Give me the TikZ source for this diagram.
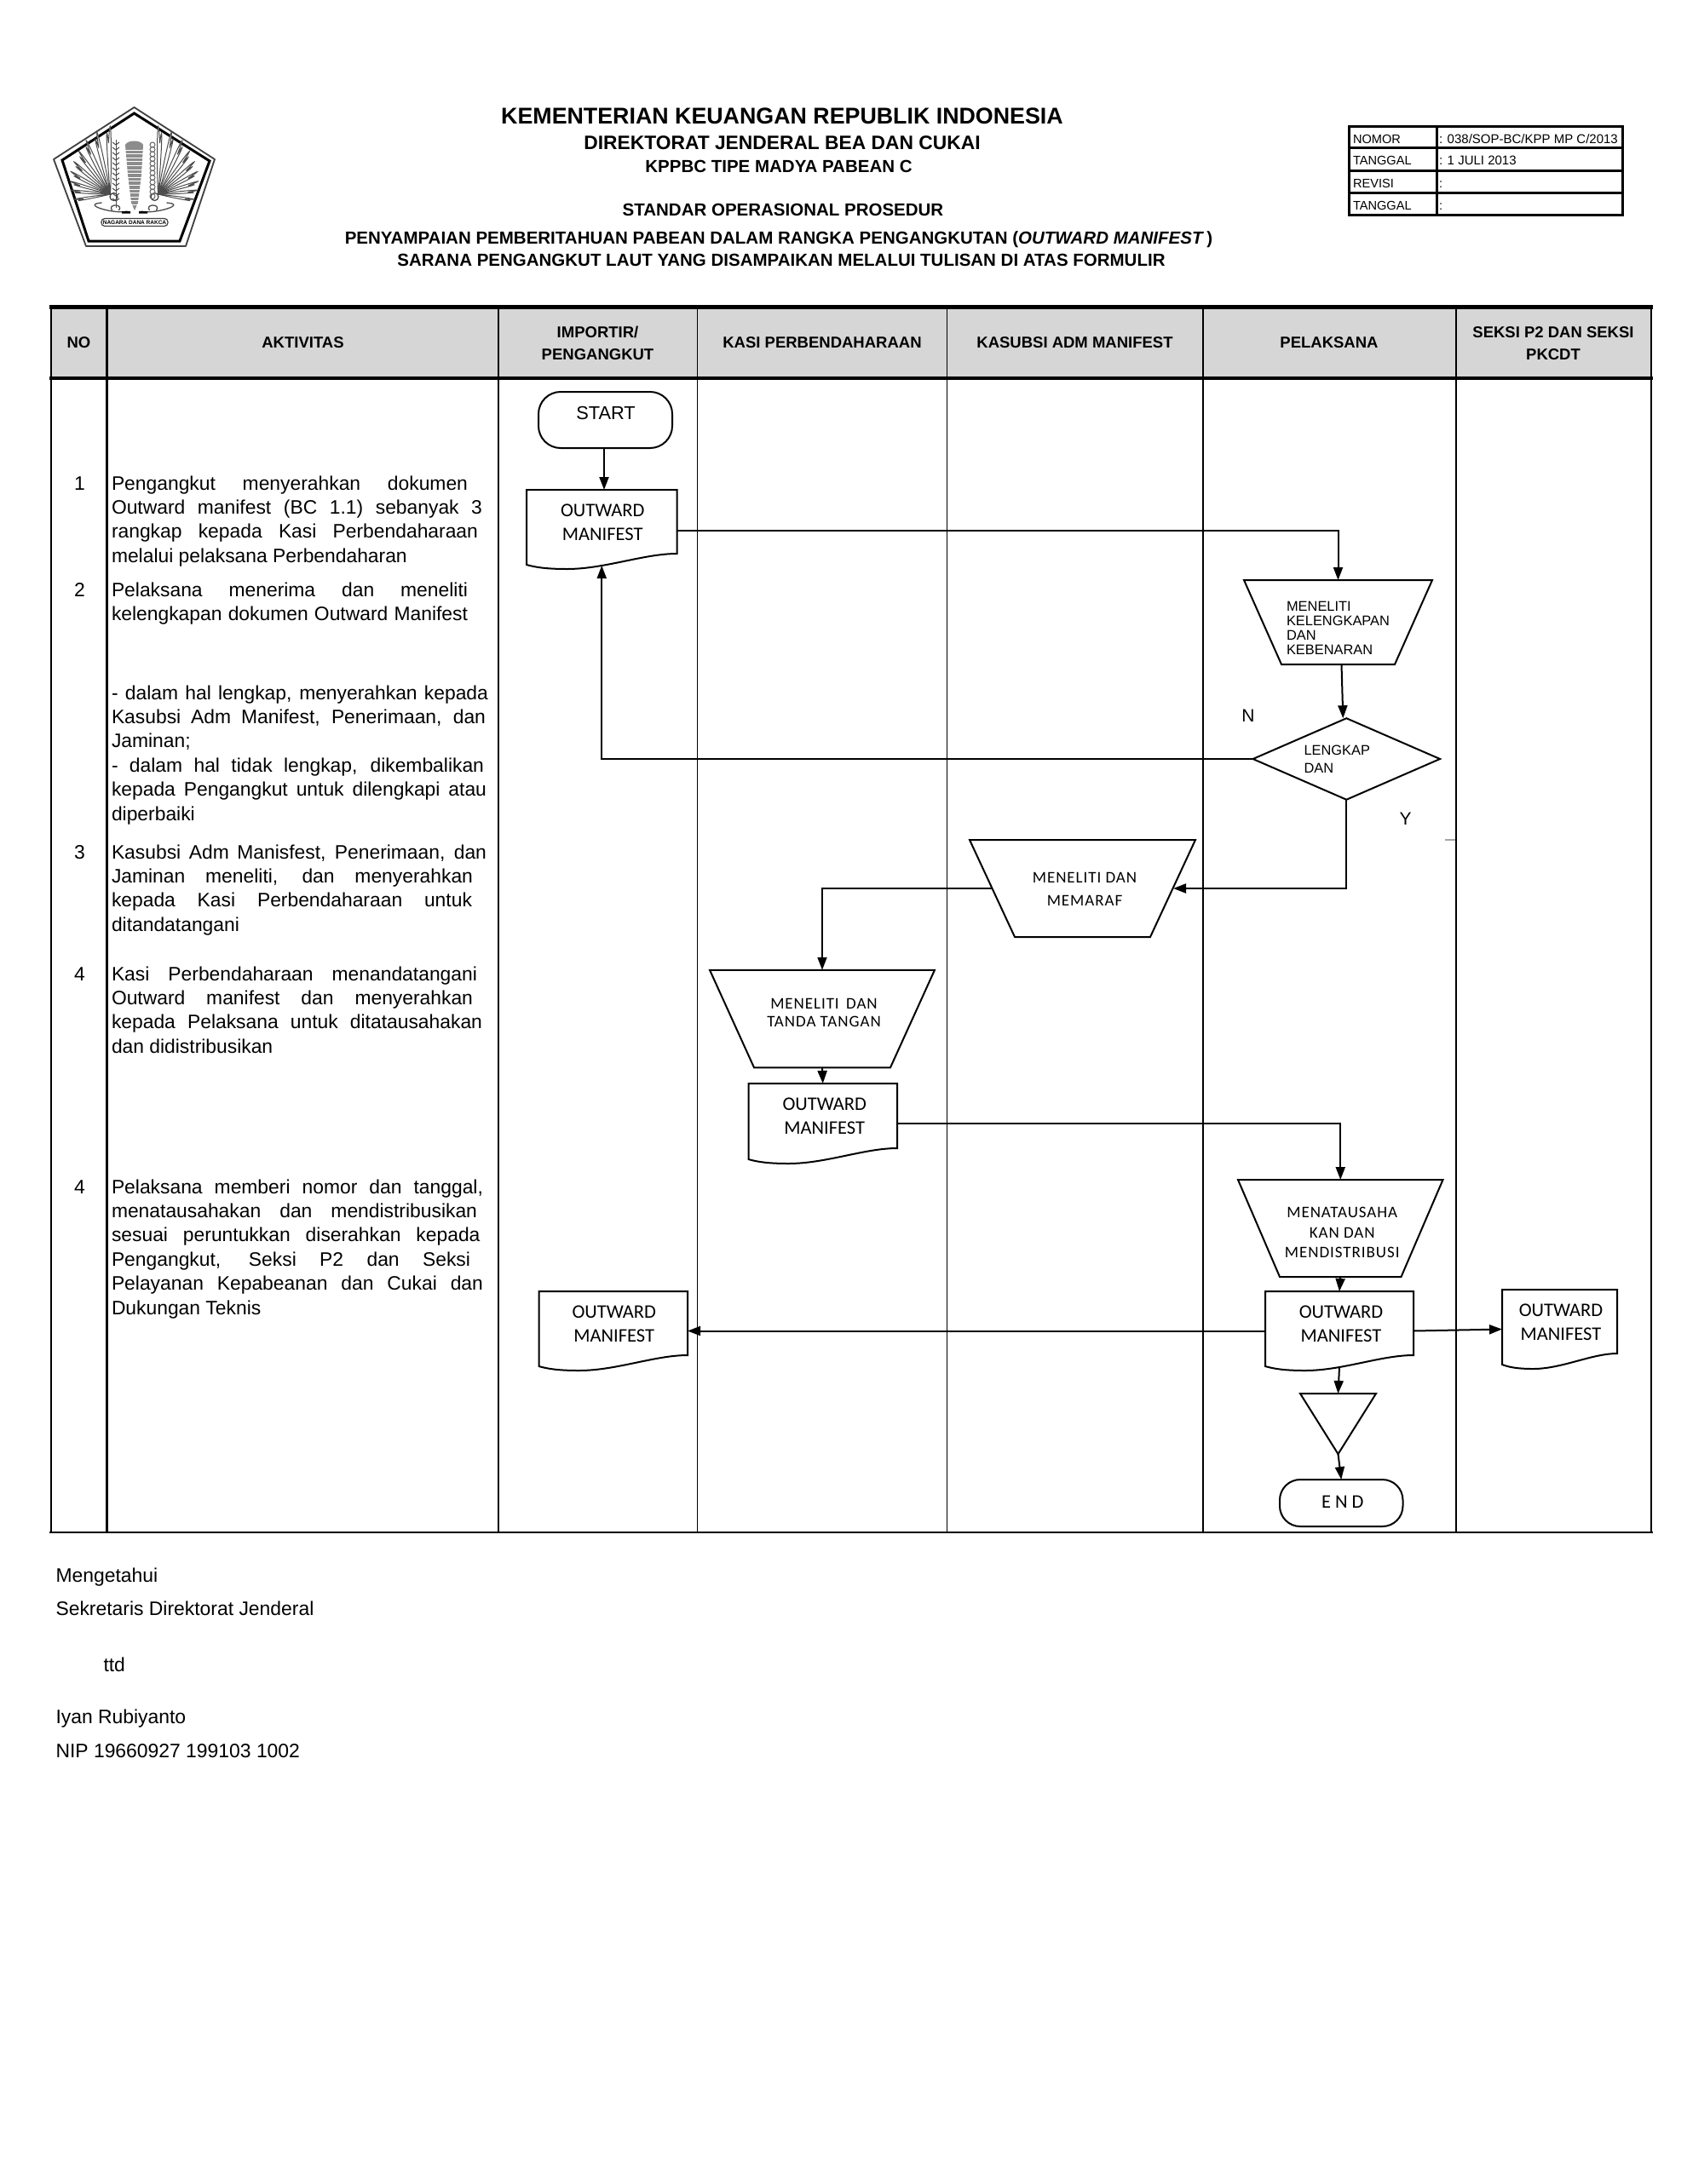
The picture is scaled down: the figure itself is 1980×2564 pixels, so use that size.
\documentclass[tikz,border=0pt]{standalone}
\usepackage{fontspec}
\usepackage{array}
\usetikzlibrary{arrows.meta,calc}
\setmainfont{Liberation Sans}
\newfontfamily\calf{Carlito}
\newfontfamily\calsp[LetterSpace=5]{Carlito}
\newlength\pxu \setlength\pxu{0.5pt}
\newcommand\fsz[2]{\fontsize{\the\dimexpr#1\pxu\relax}{\the\dimexpr#2\pxu\relax}\selectfont}
\newcommand\tshift[4]{\raisebox{\dimexpr#2\pxu-6.5\pxu\relax}[0pt][0pt]{\makebox[0pt][c]{\hspace*{#1pt}\begin{tabular}{@{}#3@{}}#4\end{tabular}}}}
\newcommand\jline[2]{\hbox{\makebox[#1\pxu][s]{#2}}}
\newcommand\nline[1]{\hbox{#1}}
\tikzset{
  pic px/.style={x=0.5pt,y=-0.5pt},
  flowbox/.style={rectangle,inner sep=0pt,outer sep=0pt,minimum width=#1},
  boxh/.style={minimum height=#1},
  shapeline/.style={line width=2*\pxu,black,line join=miter},
  conn/.style={line width=2*\pxu,black,-{Triangle[length=7.5pt,width=5.5pt]}},
  rule/.style={line width=#1*\pxu,black},
  para/.style={inner sep=0pt,outer sep=0pt,anchor=base west,font=\fsz{22.85}{28.4}},
  num/.style={inner sep=0pt,outer sep=0pt,anchor=base,font=\fsz{22.9}{28.4}},
  foot/.style={inner sep=0pt,outer sep=0pt,anchor=base west,font=\fsz{22.9}{28}},
  metat/.style={inner sep=0pt,outer sep=0pt,anchor=base west,font=\fsz{14.6}{16}},
  title/.style={inner sep=0pt,outer sep=0pt,anchor=base,font=\bfseries\fsz{#1}{#1}},
  hcell/.style={rectangle,inner sep=0pt,outer sep=0pt,fill=hgray,font=\bfseries\fsz{18.5}{26},minimum height=84*\pxu},
  cal/.style={font=\calf\fsz{22.5}{28}},
  calsm/.style={font=\calsp\fsz{19}{#1}},
  ari/.style={font=\fsz{16.4}{#1}},
}
\definecolor{hgray}{HTML}{D6D6D6}
\newcommand\trapz[2]{\draw[shapeline] (#1.north west) -- (#1.north east) -- ([xshift=-#2*\pxu]#1.south east) -- ([xshift=#2*\pxu]#1.south west) -- cycle;}
\newcommand\docu[1]{\draw[shapeline] (#1.north west) -- (#1.north east) -- ([yshift=18*\pxu]#1.south east)
  .. controls ([yshift=18*\pxu]$(#1.south east)!.22!(#1.south west)$) and ($(#1.south west)!.52!(#1.south east)$) .. ($(#1.south west)!.27!(#1.south east)$)
  .. controls ($(#1.south west)!.13!(#1.south east)$) and ([yshift=2*\pxu]$(#1.south west)!.06!(#1.south east)$) .. ([yshift=5*\pxu]#1.south west) -- cycle;}
\begin{document}
\begin{tikzpicture}[pic px]
\useasboundingbox (0,0) rectangle (1980,2564);
\fill[white] (0,0) rectangle (1980,2564);

% --- logo
\draw[line width=1.8*\pxu,black!75,line join=round] (157.5,126) -- (252,187) -- (218,289) -- (101,289) -- (63,187) -- cycle;
\draw[line width=3*\pxu,black,line join=miter] (157.5,133) -- (246,189) -- (211,283) -- (104,283) -- (73,188) -- cycle;
% feathers (left & right wings)
\foreach \sgn in {-1,1}{
  \foreach \a/\l in {100/32,86/35,74/37,62/40,50/43,38/47,26/52,14/56,2/60}{
    \draw[line width=1*\pxu,black!70,fill=white] ($(157.5,228)+(\sgn*28,0)$) .. controls +({\sgn*sin(\a-5)*\l*0.6},{-cos(\a-5)*\l*0.6}) and +({\sgn*sin(\a-5)*\l*0.95},{-cos(\a-5)*\l*0.95}) .. +({\sgn*sin(\a)*\l},{-cos(\a)*\l}) .. controls +({\sgn*sin(\a+5)*\l*0.7},{-cos(\a+5)*\l*0.7}) and +({\sgn*sin(\a+5)*\l*0.3},{-cos(\a+5)*\l*0.3}) .. ($(157.5,228)+(\sgn*28,0)$);
  }
  \draw[line width=1.2*\pxu,black!75] ($(157.5,231)+(\sgn*24,0)$) circle (4.5*\pxu);
  \draw[line width=1.3*\pxu,black!70] ($(157.5,248)+(\sgn*8,0)$) .. controls +(\sgn*14,4) and +(\sgn*26,2) .. +(\sgn*30,-10);
  \draw[line width=1.3*\pxu,black!70] ($(157.5,249)+(\sgn*26,-2)$) .. controls +(\sgn*6,-8) and +(\sgn*-6,-8) .. +(\sgn*-8,0);
}
% wheat & cotton stalks
\foreach \i in {0,...,11}{
  \draw[line width=1*\pxu,black!70] ($(136,170)+(0,\i*6)$) -- +(-4,-3) ($(136,170)+(0,\i*6)$) -- +(4,-3);
  \draw[line width=1*\pxu,black!60] ($(179,170)+(0,\i*5.5)$) circle (3*\pxu);
}
\draw[line width=1*\pxu,black!70] (136,164) -- (136,244);
% central column
\fill[black!45] (147,170) .. controls (150,164) and (165,164) .. (168,170) -- (166,205) -- (162,238) -- (158,247) -- (154,238) -- (150,205) -- cycle;
\foreach \i in {0,...,14}{\draw[line width=1*\pxu,white] (146,{176+\i*4.6}) -- (170,{176+\i*4.6});}
\fill[black] (143,248) rectangle (153,250.5) (163,248) rectangle (173,250.5);
% ribbon
\node[rectangle,draw=black!75,line width=1.2*\pxu,rounded corners=2pt,fill=white,inner sep=0pt,outer sep=0pt,minimum width=78*\pxu,minimum height=9*\pxu,font=\bfseries\fsz{6.5}{7}] (ribbon) at (158,261) {NAGARA DANA RAKCA};

% --- titles
\node[title=26.8] (t1) at (918,145) {KEMENTERIAN KEUANGAN REPUBLIK INDONESIA};
\node[title=22.8] (t2) at (918,175) {DIREKTORAT JENDERAL BEA DAN CUKAI};
\node[title=20.5] (t3) at (914,202) {KPPBC TIPE MADYA PABEAN C};
\node[title=20.5] (t4) at (919,253) {STANDAR OPERASIONAL PROSEDUR};
\node[title=20.5] (t5) at (914,286) {PENYAMPAIAN PEMBERITAHUAN PABEAN DALAM RANGKA PENGANGKUTAN (\textit{OUTWARD MANIFEST}\,)};
\node[title=20.5] (t6) at (917,312) {SARANA PENGANGKUT LAUT YANG DISAMPAIKAN MELALUI TULISAN DI ATAS FORMULIR};

% --- meta table
\draw[rule=3] (1583,148) rectangle (1904,252);
\draw[rule=3] (1583,173) -- (1904,173) (1583,200) -- (1904,200) (1583,226) -- (1904,226) (1686,148) -- (1686,252);
\node[metat] (m1) at (1588,168.5) {NOMOR};
\node[metat] (m2) at (1588,193.5) {TANGGAL};
\node[metat] (m3) at (1588,220.5) {REVISI};
\node[metat] (m4) at (1588,246.5) {TANGGAL};
\node[metat,font=\fsz{15}{16}] (v1) at (1689,168.5) {: 038/SOP-BC/KPP MP C/2013};
\node[metat,font=\fsz{15}{16}] (v2) at (1689,193.5) {: 1 JULI 2013};
\node[metat] (v3) at (1689,220.5) {:};
\node[metat] (v4) at (1689,246.5) {:};

% --- table header
\node[hcell,minimum width=66*\pxu] (hno) at (92.5,402.5) {NO};
\node[hcell,minimum width=459*\pxu] (hak) at (355.5,402.5) {AKTIVITAS};
\node[hcell,minimum width=233*\pxu] (him) at (701.5,402.5) {\tshift{0}{0}{c}{IMPORTIR/\\PENGANGKUT}};
\node[hcell,minimum width=293*\pxu] (hka) at (965,402.5) {KASI PERBENDAHARAAN};
\node[hcell,minimum width=301*\pxu] (hku) at (1261.5,402.5) {KASUBSI ADM MANIFEST};
\node[hcell,minimum width=296*\pxu] (hpe) at (1560,402.5) {PELAKSANA};
\node[hcell,minimum width=230*\pxu] (hse) at (1823,402.5) {\tshift{0}{0}{c}{SEKSI P2 DAN SEKSI\\PKCDT}};

% --- table grid
\draw[rule=5] (57.5,360) -- (1939.5,360);
\draw[rule=4] (57.5,444) -- (1939.5,444);
\draw[rule=2.6] (57.5,1799) -- (1939.5,1799);
\draw[rule=2.6] (60,358) -- (60,1800);
\draw[rule=2.4] (125.5,358) -- (125.5,1800);
\draw[rule=2] (584.5,358) -- (584.5,1800);
\draw[rule=1.8] (818.5,358) -- (818.5,1800);
\draw[rule=1.8] (1111.5,358) -- (1111.5,1800);
\draw[rule=1.8] (1412,358) -- (1412,1800);
\draw[rule=1.8] (1709,358) -- (1709,1800);
\draw[rule=2.2] (1938,358) -- (1938,1800);

% --- activity numbers and text
\node[num] (n1) at (93.5,575) {1};
\node[num] (n2) at (93.5,700) {2};
\node[num] (n3) at (93.5,1008) {3};
\node[num] (n4) at (93.5,1151) {4};
\node[num] (n5) at (93.5,1401) {4};
\node[para] (a1) at (131,575) {\vtop{\jline{418}{Pengangkut menyerahkan dokumen}\jline{435}{Outward manifest (BC 1.1) sebanyak 3}\jline{430}{rangkap kepada Kasi Perbendaharaan}\nline{melalui pelaksana Perbendaharan}}};
\node[para] (a2) at (131,700) {\vtop{\jline{418}{Pelaksana menerima dan meneliti}\jline{418}{kelengkapan dokumen Outward Manifest}}};
\node[para] (a2b) at (131,821) {\vtop{\jline{442}{- dalam hal lengkap, menyerahkan kepada}\jline{439}{Kasubsi Adm Manifest, Penerimaan, dan}\nline{Jaminan;}\jline{437}{- dalam hal tidak lengkap, dikembalikan}\jline{440}{kepada Pengangkut untuk dilengkapi atau}\nline{diperbaiki}}};
\node[para] (a3) at (131,1008) {\vtop{\jline{440}{Kasubsi Adm Manisfest, Penerimaan, dan}\jline{424}{Jaminan meneliti, dan menyerahkan}\jline{423}{kepada Kasi Perbendaharaan untuk}\nline{ditandatangani}}};
\node[para] (a4) at (131,1151) {\vtop{\jline{429}{Kasi Perbendaharaan menandatangani}\jline{424}{Outward manifest dan menyerahkan}\jline{435}{kepada Pelaksana untuk ditatausahakan}\nline{dan didistribusikan}}};
\node[para] (a5) at (131,1401) {\vtop{\jline{436}{Pelaksana memberi nomor dan tanggal,}\jline{429}{menatausahakan dan mendistribusikan}\jline{432.5}{sesuai peruntukkan diserahkan kepada}\jline{421}{Pengangkut, Seksi P2 dan Seksi}\jline{436}{Pelayanan Kepabeanan dan Cukai dan}\nline{Dukungan Teknis}}};

% --- flow nodes
\node[draw,line width=2*\pxu,rectangle,rounded corners=13pt,inner sep=0pt,outer sep=0pt,minimum width=157*\pxu,minimum height=66*\pxu,font=\fsz{21.8}{24}] (start) at (710.5,493) {\tshift{0.5}{6}{c}{START}};
\node[flowbox=176.5*\pxu,boxh=93*\pxu,cal] (doc1) at (706.25,621.5) {\tshift{1}{7.5}{c}{OUTWARD\\MANIFEST}};
\docu{doc1}
\node[flowbox=221*\pxu,boxh=99*\pxu,ari=17] (trap1) at (1570.5,730.5) {\tshift{0}{-6.5}{l}{MENELITI\\KELENGKAPAN\\DAN\\KEBENARAN}};
\trapz{trap1}{44}
\node[flowbox=219.5*\pxu,boxh=95.5*\pxu,ari=21] (dia) at (1580.3,891) {\tshift{-11}{1}{l}{LENGKAP\\DAN}};
\draw[shapeline] (dia.north) -- (dia.east) -- (dia.south) -- (dia.west) -- cycle;
\node[flowbox=265*\pxu,boxh=114*\pxu,calsm=27] (trap2) at (1270.5,1043) {\tshift{2.5}{0.5}{c}{MENELITI DAN\\MEMARAF}};
\trapz{trap2}{53}
\node[flowbox=264*\pxu,boxh=114.5*\pxu,calsm=21] (trap3) at (965,1196) {\tshift{2}{7.5}{c}{MENELITI\, DAN\\TANDA TANGAN}};
\trapz{trap3}{52}
\node[flowbox=174.5*\pxu,boxh=94*\pxu,cal] (doc2) at (965.75,1319) {\tshift{2}{8}{c}{OUTWARD\\MANIFEST}};
\docu{doc2}
\node[flowbox=240.5*\pxu,boxh=114*\pxu,calsm=23.5] (trap4) at (1573.25,1442) {\tshift{2}{-4.5}{c}{MENATAUSAHA\\KAN DAN\\MENDISTRIBUSI}};
\trapz{trap4}{49}
\node[flowbox=174*\pxu,boxh=93*\pxu,cal] (doc3) at (1572,1562.5) {\tshift{2}{7.5}{c}{OUTWARD\\MANIFEST}};
\docu{doc3}
\node[flowbox=174.5*\pxu,boxh=93*\pxu,cal] (docL) at (719.75,1562.5) {\tshift{1}{7.5}{c}{OUTWARD\\MANIFEST}};
\docu{docL}
\node[flowbox=135*\pxu,boxh=93*\pxu,cal] (docR) at (1830.5,1560.5) {\tshift{1.5}{7.5}{c}{OUTWARD\\MANIFEST}};
\docu{docR}
\node[flowbox=89*\pxu,boxh=71*\pxu] (tri) at (1570.5,1671.5) {};
\draw[shapeline] (tri.north west) -- (tri.north east) -- (tri.south) -- cycle;
\node[draw,line width=2*\pxu,rectangle,rounded corners=12pt,inner sep=0pt,outer sep=0pt,minimum width=144.5*\pxu,minimum height=55*\pxu,font=\calf\fsz{22.5}{24}] (endn) at (1574.25,1764.5) {\tshift{1.5}{0}{c}{E N D}};

\node[inner sep=0pt,outer sep=0pt,font=\fsz{21}{24}] (lN) at (1465,840) {N};
\node[inner sep=0pt,outer sep=0pt,font=\fsz{21}{24}] (lY) at (1649.5,961.5) {Y};
\draw[line width=1.2*\pxu,black!35] (1696,986) -- (1708,986);

% --- connectors
\draw[conn] ([xshift=-1.5*\pxu]start.south) -- ([xshift=2.75*\pxu]doc1.north);
\draw[conn] ([yshift=-1*\pxu]doc1.east) -| (trap1.north);
\draw[conn] ([xshift=4*\pxu]trap1.south) -- ([xshift=-4*\pxu]dia.north);
\draw[conn] (dia.west) -| ([yshift=4*\pxu]doc1.south);
\draw[conn] (dia.south) |- ([xshift=-26*\pxu]trap2.east);
\draw[conn] ([xshift=26*\pxu]trap2.west) -| (trap3.north);
\draw[conn] (trap3.south) -- (doc2.north);
\draw[conn] (doc2.east) -| (trap4.north);
\draw[conn] (trap4.south) -- (doc3.north);
\draw[conn] (doc3.west) -- (docL.east);
\draw[conn] (doc3.east) -- (docR.west);
\draw[conn] ([yshift=4*\pxu]doc3.south) -- (tri.north);
\draw[conn] (tri.south) -- (endn.north);

% --- footer
\node[foot] (f1) at (65.5,1857.5) {Mengetahui};
\node[foot] (f2) at (65.5,1896) {Sekretaris Direktorat Jenderal};
\node[foot] (f3) at (121.5,1962) {ttd};
\node[foot] (f4) at (65.5,2023) {Iyan Rubiyanto};
\node[foot] (f5) at (65.5,2063) {NIP 19660927 199103 1002};
\end{tikzpicture}
\end{document}
